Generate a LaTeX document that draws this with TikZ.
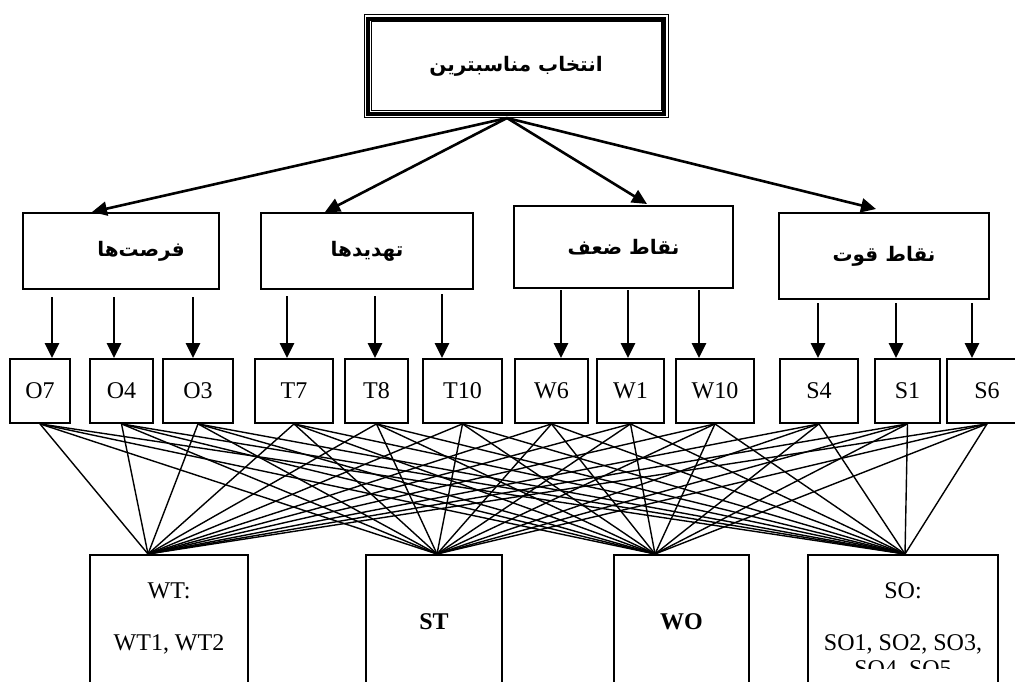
\documentclass[tikz,border=0pt]{standalone}
\usepackage{fontspec}
\setmainfont{Liberation Serif}
\newfontfamily\arabicfont[Script=Arabic]{DejaVu Sans}
\TeXXeTstate=1
\usetikzlibrary{arrows.meta}
\usetikzlibrary{calc,positioning}
\newcommand{\fatext}[1]{\beginR #1\endR}
\tikzstyle{catblock} = [rectangle, draw, line width=1pt, font=\arabicfont\bfseries\fontsize{10}{12}\selectfont]
\tikzstyle{itemblock} = [rectangle, draw, line width=0.9pt, minimum height=32pt, inner sep=0pt, font=\fontsize{12}{14}\selectfont]
\tikzstyle{resblock} = [rectangle, draw, line width=0.9pt, minimum height=70pt, anchor=north]
\tikzstyle{restext} = [align=center, inner sep=0pt, font=\fontsize{12}{13}\selectfont]
\tikzstyle{line} = [draw, -{Triangle[length=7.5pt,width=7pt]}, line width=1.3pt]
\tikzstyle{link} = [draw, line width=0.7pt]

\begin{document}
\begin{tikzpicture}[x=0.5pt, y=-0.5pt]
\useasboundingbox (0,0) rectangle (1015,681);
\clip (0,0) rectangle (1015,681);

% top box with triple frame
\node [draw, line width=0.5pt, minimum width=152pt, minimum height=51.5pt, font=\arabicfont\bfseries\fontsize{10}{12}\selectfont] (choice) at (516,66) {\fatext{انتخاب مناسبترین}};
\draw [line width=2pt] ($(choice.south west)+(4.5,-4.5)$) rectangle ($(choice.north east)+(-4.5,4.5)$);
\draw [line width=0.5pt] ($(choice.south west)+(7.5,-7.5)$) rectangle ($(choice.north east)+(-7.5,7.5)$);

% swot groups
\node [catblock, minimum width=98pt, minimum height=38pt] (opp) at (121,251) {\hspace{20pt}\fatext{فرصت‌ها}};
\node [catblock, minimum width=106pt, minimum height=38pt] (thr) at (367,251) {\fatext{تهدیدها}};
\node [catblock, minimum width=109.5pt, minimum height=41pt] (weak) at (623.5,247) {\fatext{نقاط ضعف}};
\node [catblock, minimum width=105pt, minimum height=43pt] (str) at (884,256) {\fatext{نقاط قوت}};

\coordinate (fork) at ($(choice.south)+(-9,0)$);
\path [line] (fork) -- ($(opp.north)+(-29,0)$);
\path [line] (fork) -- ($(thr.north)+(-42,0)$);
\path [line] (fork) -- ($(weak.north)+(23.5,-1)$);
\path [line] (fork) -- ($(str.north)+(-8,-3)$);

% factors
\foreach \name/\x/\w/\lbl in {o7/40/30/O7, o4/121.5/31.5/O4, o3/198/35/O3,
    t7/294/39/T7, t8/376.5/31.5/T8, t10/462.5/39.5/T10,
    w6/551.5/36.5/W6, w1/630.5/33.5/W1, w10/715/39/W10,
    s4/819/39/S4, s1/907.5/32.5/S1, s6/987/40/S6}
  \node [itemblock, minimum width=\w pt] (\name) at (\x,391) {\lbl};

\foreach \cat/\item/\dx/\gap in {opp/o7/12/7, opp/o4/-7.5/7, opp/o3/-5/7,
    thr/t7/-7/6, thr/t8/-1.5/6, thr/t10/-20.5/4,
    weak/w6/9.5/1, weak/w1/-2.5/1, weak/w10/-16/1,
    str/s4/-1/3, str/s1/-11.5/3, str/s6/-15/3}
  \path [line] ($(\cat.south -| \item.north)+(\dx,\gap)$) -- ($(\item.north)+(\dx,0)$);

% strategies
\node [resblock, minimum width=79pt] (wt) at (169,554) {};
\node [resblock, minimum width=68pt] (st) at (434,554) {};
\node [resblock, minimum width=67.5pt] (wo) at (681.5,554) {};
\node [resblock, minimum width=95pt] (so) at (903,554) {};

\coordinate (wtin) at ($(wt.north)+(-21,0)$);
\coordinate (stin) at ($(st.north)+(3,0)$);
\coordinate (woin) at ($(wo.north)+(-26.5,0)$);
\coordinate (soin) at ($(so.north)+(2,0)$);

\foreach \item in {o7,o4,o3,t7,t8,t10,w6,w1,w10,s4,s1,s6}
  \foreach \res in {wtin,stin,woin,soin}
    \path [link] (\item.south) -- (\res);

\node [restext, below=14pt of wt.north] (wttext) {WT:\\[13pt]WT1, WT2};
\node [restext, font=\fontsize{12}{13}\selectfont\bfseries, below=29.5pt of st.north] (sttext) {ST};
\node [restext, font=\fontsize{12}{13}\selectfont\bfseries, below=29.5pt of wo.north] (wotext) {WO};
\begin{scope}
\clip (so.north west) rectangle ($(so.north east)+(0,114)$);
\node [restext, below=14pt of so.north] (sotext) {SO:\\[13pt]SO1, SO2, SO3,\\SO4, SO5};
\end{scope}
\end{tikzpicture}
\end{document}
